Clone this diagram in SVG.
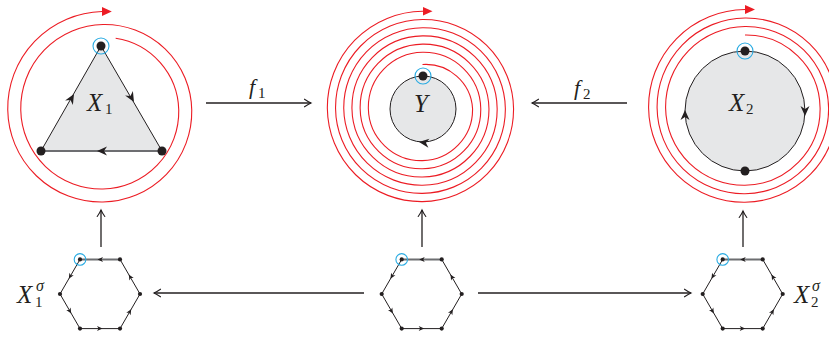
<svg xmlns="http://www.w3.org/2000/svg" xmlns:xlink="http://www.w3.org/1999/xlink" width="829" height="337" viewBox="0 0 829 337">
<style>
.red{fill:none;stroke:#ec1c24;stroke-width:1.1;marker-end:url(#redArrow)}
.edge{stroke:#231f20;stroke-width:1;fill:none}
.gedge{stroke:#6d6e71;stroke-width:2;fill:none}
.region{fill:#e6e7e8;stroke:none}
.dot{fill:#231f20}
.ring{fill:none;stroke:#29abe2;stroke-width:1.1}
.ah{fill:#231f20}
.conn{stroke:#231f20;stroke-width:1.3;fill:none;marker-end:url(#to)}
.math{font-family:"Liberation Serif","Times New Roman",serif;font-style:italic;fill:#231f20}
.up{font-family:"Liberation Serif","Times New Roman",serif;font-style:normal;fill:#231f20}
</style>
<defs>
<marker id="redArrow" markerWidth="11" markerHeight="10" viewBox="0 0 11 10" refX="0.5" refY="5" orient="auto" markerUnits="userSpaceOnUse">
<path d="M0,0.5 L10,5 L0,9.5 z" fill="#ec1c24"/>
</marker>
<marker id="to" markerWidth="10" markerHeight="10" viewBox="-8 -5 10 10" refX="0" refY="0" orient="auto" markerUnits="userSpaceOnUse" overflow="visible">
<path d="M-6.5,-3.8 Q-2.4,-1 0,0 Q-2.4,1 -6.5,3.8" fill="none" stroke="#231f20" stroke-width="1.1" stroke-linecap="round"/>
</marker>
<path id="ah" d="M0,0 L-10,-4.5 L-7,0 L-10,4.5 z"/>
<path id="ahs" d="M0,0 L-5.5,-2.5 L-4,0 L-5.5,2.5 z"/>
<g id="hex">
<path class="edge" d="M-20,-34.6 L-40,0 L-20,34.6 L20,34.6 L40,0 L20,-34.6"/>
<path class="gedge" d="M20,-34.6 L-20,-34.6" stroke-width="1.8"/>
<use xlink:href="#ahs" class="ah" transform="translate(-31.2,-15.2) rotate(120)"/>
<use xlink:href="#ahs" class="ah" transform="translate(-28.8,19.4) rotate(60)"/>
<use xlink:href="#ahs" class="ah" transform="translate(2.5,34.6)"/>
<use xlink:href="#ahs" class="ah" transform="translate(31.2,15.2) rotate(-60)"/>
<use xlink:href="#ahs" class="ah" transform="translate(28.8,-19.4) rotate(-120)"/>
<use xlink:href="#ahs" class="ah" transform="translate(-2.5,-34.6) rotate(180)"/>
<circle class="dot" cx="-20" cy="-34.6" r="2.1"/>
<circle class="dot" cx="20" cy="-34.6" r="2.1"/>
<circle class="dot" cx="40" cy="0" r="2.1"/>
<circle class="dot" cx="20" cy="34.6" r="2.1"/>
<circle class="dot" cx="-20" cy="34.6" r="2.1"/>
<circle class="dot" cx="-40" cy="0" r="2.1"/>
<circle class="ring" cx="-20" cy="-34.6" r="5.8"/>
</g>
</defs>

<g id="X1">
<path class="red" d="M115.65,38.25 A74.3,74.3 0 0 1 178.75,110 A77.4,77.4 0 0 1 103,189 A80.6,80.6 0 0 1 20.75,110 A83.9,83.9 0 0 1 103,24.5 A87.1,87.1 0 0 1 191.75,110 A90.4,90.4 0 0 1 103,202 A93.6,93.6 0 0 1 7.75,110 A96.9,96.9 0 0 1 102,11.5 h0.3"/>
<polygon class="region" points="101,46 41,151 162,151"/>
<path class="edge" d="M41,151 L101,46 L162,151"/>
<path class="gedge" d="M162,151 L41,151"/>
<use xlink:href="#ah" class="ah" transform="translate(74,94) rotate(-60)"/>
<use xlink:href="#ah" class="ah" transform="translate(134,102) rotate(60)"/>
<use xlink:href="#ah" class="ah" transform="translate(97,151) rotate(180)"/>
<circle class="dot" cx="101" cy="46" r="4.5"/>
<circle class="dot" cx="41" cy="151" r="4.5"/>
<circle class="dot" cx="162" cy="151" r="4.5"/>
<circle class="ring" cx="101" cy="46" r="8"/>
<text class="math" x="87" y="111" font-size="25">X</text>
<text class="up" x="105" y="114" font-size="15">1</text>
</g>

<g id="Y">
<path class="red" d="M422.5,64.5 A47,47 0 0 1 472.55,108.5 A51,51 0 0 1 422.5,160.6 A53.1,53.1 0 0 1 368.35,108.5 A55.2,55.2 0 0 1 422.5,52.3 A57.2,57.2 0 0 1 480.75,108.5 A59.3,59.3 0 0 1 422.5,168.8 A61.3,61.3 0 0 1 360.15,108.5 A63.4,63.4 0 0 1 422.5,44.1 A65.4,65.4 0 0 1 488.95,108.5 A67.5,67.5 0 0 1 422.5,177 A69.5,69.5 0 0 1 351.95,108.5 A71.6,71.6 0 0 1 422.5,35.9 A73.6,73.6 0 0 1 497.15,108.5 A75.7,75.7 0 0 1 422.5,185.2 A77.7,77.7 0 0 1 343.75,108.5 A79.8,79.8 0 0 1 422.5,27.7 A81.8,81.8 0 0 1 505.35,108.5 A83.9,83.9 0 0 1 422.5,193.4 A85.9,85.9 0 0 1 335.55,108.5 A88,88 0 0 1 422.5,19.5 A90,90 0 0 1 513.55,108.5 A92.1,92.1 0 0 1 422.5,201.6 A94.1,94.1 0 0 1 327.35,108.5 A96.2,96.2 0 0 1 422.5,11.3 h0.5"/>
<circle class="region" cx="423" cy="109" r="33"/>
<circle class="edge" cx="423" cy="109" r="33"/>
<use xlink:href="#ah" class="ah" transform="translate(419,142) rotate(187)"/>
<circle class="dot" cx="423" cy="76" r="4.5"/>
<circle class="ring" cx="423" cy="76" r="8"/>
<text class="math" x="414" y="112" font-size="25">Y</text>
</g>

<g id="X2">
<path class="red" d="M745,35 A74,74 0 0 1 820.1,108 A76.2,76.2 0 0 1 745,185.25 A78.3,78.3 0 0 1 665.6,108 A80.4,80.4 0 0 1 745,26.5 A82.6,82.6 0 0 1 828.6,108 A84.7,84.7 0 0 1 745,193.75 A86.8,86.8 0 0 1 657.1,108 A88.9,88.9 0 0 1 745,18 A91.1,91.1 0 0 1 837.1,108 A93.2,93.2 0 0 1 745,202.25 A95.3,95.3 0 0 1 648.6,108 A97.4,97.4 0 0 1 745,9.5 h0.5"/>
<circle class="region" cx="745" cy="111" r="60"/>
<circle class="edge" cx="745" cy="111" r="60"/>
<use xlink:href="#ah" class="ah" transform="translate(805,116) rotate(90)"/>
<use xlink:href="#ah" class="ah" transform="translate(685,110) rotate(-90)"/>
<circle class="dot" cx="745" cy="51" r="4.5"/>
<circle class="dot" cx="745" cy="171" r="4.5"/>
<circle class="ring" cx="745" cy="51" r="8"/>
<text class="math" x="729" y="111" font-size="25">X</text>
<text class="up" x="746" y="114" font-size="15">2</text>
</g>

<g id="X1sigma">
<use xlink:href="#hex" transform="translate(100,294)"/>
<text class="math" x="17" y="303" font-size="25">X</text>
<text class="math" x="36" y="291" font-size="16">σ</text>
<text class="up" x="35" y="307" font-size="15">1</text>
</g>

<g id="Ysigma">
<use xlink:href="#hex" transform="translate(421.7,294)"/>
</g>

<g id="X2sigma">
<use xlink:href="#hex" transform="translate(742.7,294)"/>
<text class="math" x="794" y="303" font-size="25">X</text>
<text class="math" x="812" y="291" font-size="16">σ</text>
<text class="up" x="811" y="307" font-size="15">2</text>
</g>

<g id="connectors">
<line class="conn" x1="206" y1="103" x2="311" y2="103"/>
<text class="math" x="249" y="94" font-size="22">f</text>
<text class="up" x="258" y="98" font-size="15">1</text>
<line class="conn" x1="627" y1="103" x2="532" y2="103"/>
<text class="math" x="574" y="95" font-size="22">f</text>
<text class="up" x="583" y="99" font-size="15">2</text>
<line class="conn" x1="101" y1="247" x2="101" y2="210"/>
<line class="conn" x1="422" y1="247" x2="422" y2="210"/>
<line class="conn" x1="743" y1="247" x2="743" y2="211"/>
<line class="conn" x1="364" y1="293" x2="154" y2="293"/>
<line class="conn" x1="478" y1="293" x2="691" y2="293"/>
</g>
</svg>
